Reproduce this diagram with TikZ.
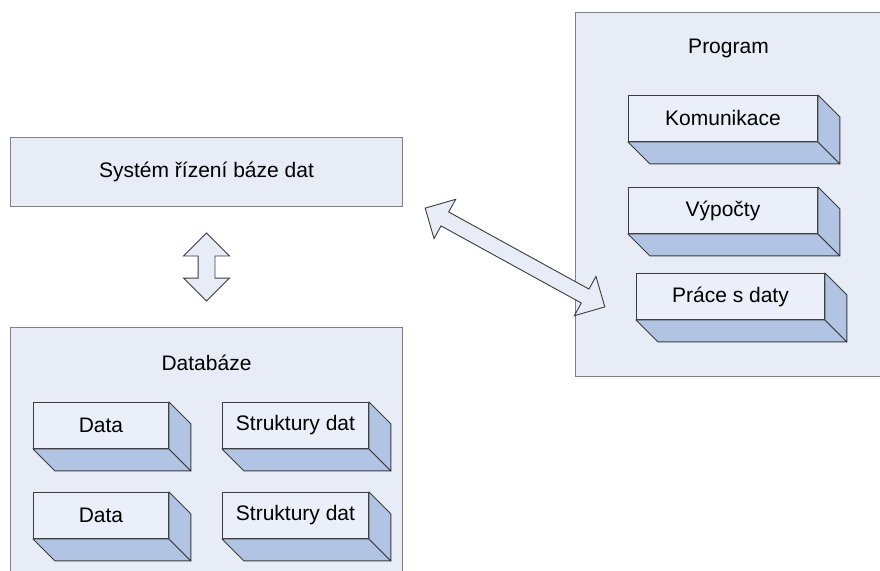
\documentclass[tikz,border=0pt]{standalone}
\usepackage{fontspec}
\setmainfont{Liberation Sans}
\usetikzlibrary{positioning,shapes.arrows,calc}

\definecolor{boxfill}{HTML}{E7ECF7}
\definecolor{facefill}{HTML}{EAEFF9}
\definecolor{sidefill}{HTML}{B1C4E4}
\definecolor{edgegray}{HTML}{808080}
\definecolor{edgedark}{HTML}{3C3C3C}

\tikzset{
  outer box/.style={draw=edgegray, fill=boxfill, line width=1pt},
  block face/.style={draw=edgedark, fill=facefill, line width=0.9pt, minimum height=46, inner sep=0pt, anchor=north west},
  block side/.style={draw=edgedark, fill=sidefill, line width=0.9pt, line join=round},
  big arrow/.style={double arrow, draw=edgedark, fill=boxfill, line width=0.9pt, inner xsep=0pt, double arrow head extend=14.5}
}

% side and bottom faces of a block
\newcommand{\blockdepth}[1]{%
  \draw[block side] (#1.south west) -- ++(22,22) -- ($(#1.south east)+(22,22)$) -- (#1.south east) -- cycle;
  \draw[block side] (#1.north east) -- ++(22,22) -- ($(#1.south east)+(22,22)$) -- (#1.south east) -- cycle;
}

\begin{document}
\begin{tikzpicture}[x=1pt, y=-1pt, font=\fontsize{21}{25}\selectfont]

    \useasboundingbox (0,0) rectangle (880,570);
    \clip (0,0) rectangle (880,570);

      % Program
      \node (Program) [outer box, anchor=north west, minimum width=306, minimum height=364] at (575,12) {};
      \node (ProgramTitle) at ($(Program.north)+(0,36)$) {Program};

      \node (Komunikace) [block face, minimum width=189] at (628,95) {Komunikace};
      \node (Vypocty) [block face, minimum width=189] at (628,187) {Výpočty};
      \node (Prace) [block face, minimum width=188] at (636,273) {Práce s daty};
      \blockdepth{Komunikace}
      \blockdepth{Vypocty}
      \blockdepth{Prace}

      % SRBD
      \node (System) [outer box, anchor=north west, minimum width=392, minimum height=69] at (10,137) {Systém řízení báze dat};

      % Databaze
      \node (Databaze) [outer box, anchor=north west, minimum width=392, minimum height=280] at (10,327) {};
      \node (DatabazeTitle) at ($(Databaze.north)+(0,36)$) {Databáze};

      \node (DataA) [block face, minimum width=135] at (33,402) {Data};
      \node (StrukturyA) [block face, minimum width=146] at (222,402) {Struktury dat};
      \node (DataB) [block face, minimum width=135] at (33,492) {Data};
      \node (StrukturyB) [block face, minimum width=146] at (222,492) {Struktury dat};
      \blockdepth{DataA}
      \blockdepth{StrukturyA}
      \blockdepth{DataB}
      \blockdepth{StrukturyB}

      % arrows
      \node (SysDb) [big arrow, rotate=90, inner ysep=8pt, minimum height=68, minimum width=45] at ($(System.south)!0.5!(Databaze.north)$) {};
      \node (SysProgram) [big arrow, rotate=-28.8, inner ysep=7.5pt, minimum height=205, minimum width=44] at (515,257.5) {};

\end{tikzpicture}
\end{document}
